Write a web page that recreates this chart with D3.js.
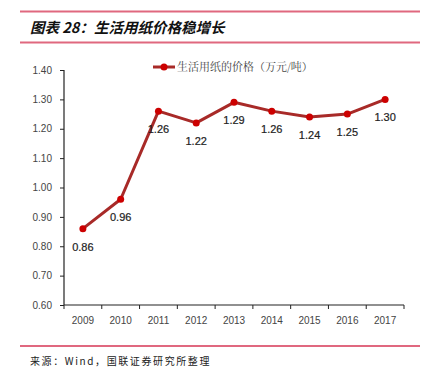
<!DOCTYPE html>
<html><head><meta charset="utf-8">
<script src="https://cdn.jsdelivr.net/npm/d3@7"></script>
<style>body{margin:0;background:#fff}svg{display:block}</style>
</head><body><svg id="c" width="428" height="378"></svg>
<script>
const years = ["2009","2010","2011","2012","2013","2014","2015","2016","2017"];
const prices = [0.86, 0.96, 1.26, 1.22, 1.29, 1.26, 1.24, 1.25, 1.30];
const labels = ["0.86","0.96","1.26","1.22","1.29","1.26","1.24","1.25","1.30"];
const yTicks = [0.6,0.7,0.8,0.9,1.0,1.1,1.2,1.3,1.4];
const seriesName = "生活用纸的价格（万元/吨）";
const titleText = "图表 28：生活用纸价格稳增长";
const sourceText = "来源：Wind，国联证券研究所整理";

const svg = d3.select("#c");
const pink = "#e0687f";
[11.5, 42.5, 346].forEach(y => svg.append("line").attr("x1",20).attr("x2",420).attr("y1",y).attr("y2",y)
  .attr("stroke",pink).attr("stroke-width",2));
svg.append("text").attr("x",30).attr("y",33).text(titleText)
  .attr("font-family","Noto Sans CJK SC").attr("font-size",14.5).attr("font-style","italic").attr("font-weight","bold").attr("fill","#111");
svg.append("text").attr("x",30).attr("y",365).text(sourceText)
  .attr("font-family","Noto Sans CJK SC").attr("font-size",10).attr("fill","#222").attr("letter-spacing",1.6);

const x = d3.scaleBand().domain(years).range([64,404]);
const y = d3.scaleLinear().domain([0.6,1.4]).range([305,70]);
const tickFont = "'Liberation Sans Narrow','Liberation Sans',Arial,sans-serif";

const ya = svg.append("g").attr("transform","translate(64,0)")
  .call(d3.axisLeft(y).tickValues(yTicks).tickFormat(d3.format(".2f")).tickSize(4).tickPadding(8));
const xa = svg.append("g").attr("transform","translate(0,305)")
  .call(d3.axisBottom(x).tickSize(0).tickPadding(12));
svg.append("g").selectAll("line").data(years.concat(["end"])).join("line")
  .attr("x1",(d,i)=>64+i*x.step()).attr("x2",(d,i)=>64+i*x.step())
  .attr("y1",305).attr("y2",309).attr("stroke","#222").attr("stroke-width",1);
[ya,xa].forEach(g=>{
  g.selectAll("path").attr("stroke","#222").attr("stroke-width",1.2);
  g.selectAll("line").attr("stroke","#222");
  g.selectAll("text").attr("font-family",tickFont).attr("font-size",10).attr("fill","#444");
});
ya.select(".domain").attr("d","M0,70V305");
xa.select(".domain").attr("d","M64,0H404");

const cx = d => x(d) + x.bandwidth()/2;
const line = d3.line().x((d,i)=>cx(years[i])).y(d=>y(d));
svg.append("path").datum(prices).attr("d",line).attr("fill","none")
  .attr("stroke","#a82a28").attr("stroke-width",3).attr("stroke-linejoin","round");
svg.append("g").selectAll("circle").data(prices).join("circle")
  .attr("cx",(d,i)=>cx(years[i])).attr("cy",d=>y(d)).attr("r",3.5).attr("fill","#cc0000");
svg.append("g").selectAll("text").data(prices).join("text")
  .attr("x",(d,i)=>cx(years[i])).attr("y",d=>y(d)+22).attr("text-anchor","middle")
  .text((d,i)=>labels[i]).attr("font-family",tickFont).attr("font-size",11).attr("fill","#222").attr("stroke","#222").attr("stroke-width",0.2);

const lg = svg.append("g");
lg.append("line").attr("x1",153).attr("x2",175).attr("y1",67).attr("y2",67).attr("stroke","#a82a28").attr("stroke-width",3);
lg.append("circle").attr("cx",164).attr("cy",67).attr("r",3.5).attr("fill","#cc0000");
lg.append("text").attr("x",177).attr("y",71).text(seriesName)
  .attr("font-family","Noto Serif CJK SC, Noto Sans CJK SC").attr("font-size",11).attr("fill","#444");
</script></body></html>
